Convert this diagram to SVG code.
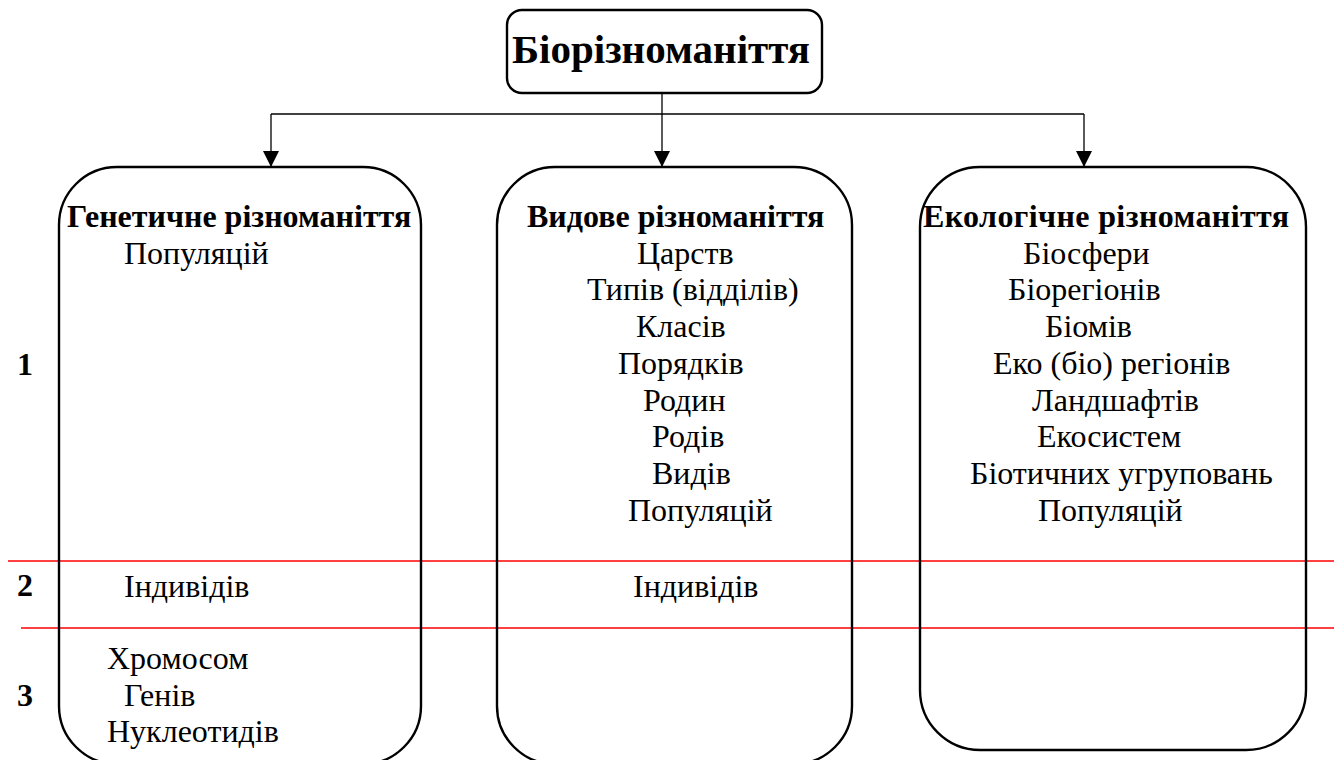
<svg xmlns="http://www.w3.org/2000/svg" width="1336" height="760" viewBox="0 0 1336 760">
<style>
  .box { fill: none; stroke: #000; stroke-width: 2.4; }
  .conn { fill: none; stroke: #000; stroke-width: 1.3; }
  .red { stroke: #f00; stroke-width: 1.5; }
  text { font-family: "Liberation Serif", "Times New Roman", serif; fill: #000; }
  .t { font-size: 32px; }
  .h { font-size: 32px; font-weight: bold; }
  .title { font-size: 41px; font-weight: bold; }
</style>
<defs>
  <marker id="arr" viewBox="0 0 16 16" refX="16" refY="8" markerWidth="16" markerHeight="16" markerUnits="userSpaceOnUse" orient="auto">
    <path d="M0,0 L16,8 L0,16 Z" fill="#000"/>
  </marker>
</defs>
<rect width="1336" height="760" fill="#fff"/>

<g id="levels">
  <line class="red" x1="8" y1="561" x2="1334" y2="561"/>
  <line class="red" x1="21" y1="628" x2="1334" y2="628"/>
  <text class="h" x="25" y="375" text-anchor="middle">1</text>
  <text class="h" x="25" y="596" text-anchor="middle">2</text>
  <text class="h" x="25" y="706" text-anchor="middle">3</text>
</g>

<g id="connectors">
  <line class="conn" x1="662" y1="93" x2="662" y2="114"/>
  <line class="conn" x1="271" y1="114" x2="1084" y2="114"/>
  <line class="conn" x1="271" y1="114" x2="271" y2="167" marker-end="url(#arr)"/>
  <line class="conn" x1="662" y1="114" x2="662" y2="167" marker-end="url(#arr)"/>
  <line class="conn" x1="1084" y1="114" x2="1084" y2="167" marker-end="url(#arr)"/>
</g>

<g id="root">
  <rect class="box" x="507" y="10" width="315" height="83" rx="15" style="fill:#fff"/>
  <text class="title" x="661" y="63" text-anchor="middle">Біорізноманіття</text>
</g>

<g id="genetic">
  <rect class="box" x="59" y="167" width="362" height="597" rx="58"/>
  <text class="h" x="67" y="227">Генетичне різноманіття</text>
  <text class="t" x="124" y="264">Популяцій</text>
  <text class="t" x="124" y="597">Індивідів</text>
  <text class="t" x="107" y="669">Хромосом</text>
  <text class="t" x="124" y="706">Генів</text>
  <text class="t" x="107" y="742">Нуклеотидів</text>
</g>

<g id="species">
  <rect class="box" x="497" y="167" width="355" height="597" rx="58"/>
  <text class="h" x="527" y="227">Видове різноманіття</text>
  <text class="t" x="637" y="264">Царств</text>
  <text class="t" x="587" y="300">Типів (відділів)</text>
  <text class="t" x="636" y="337">Класів</text>
  <text class="t" x="618" y="374">Порядків</text>
  <text class="t" x="643" y="411">Родин</text>
  <text class="t" x="652" y="447">Родів</text>
  <text class="t" x="652" y="484">Видів</text>
  <text class="t" x="628" y="521">Популяцій</text>
  <text class="t" x="633" y="597">Індивідів</text>
</g>

<g id="ecological">
  <rect class="box" x="920" y="167" width="386" height="583" rx="60"/>
  <text class="h" x="923" y="227" textLength="366">Екологічне різноманіття</text>
  <text class="t" x="1023" y="264">Біосфери</text>
  <text class="t" x="1008" y="300">Біорегіонів</text>
  <text class="t" x="1045" y="337">Біомів</text>
  <text class="t" x="993" y="374">Еко (біо) регіонів</text>
  <text class="t" x="1032" y="411">Ландшафтів</text>
  <text class="t" x="1037" y="447">Екосистем</text>
  <text class="t" x="970" y="484">Біотичних угруповань</text>
  <text class="t" x="1038" y="521">Популяцій</text>
</g>
</svg>
